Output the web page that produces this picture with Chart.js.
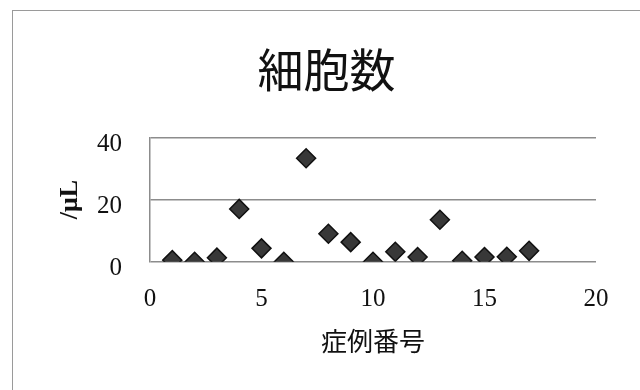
<!DOCTYPE html>
<html>
<head>
<meta charset="utf-8">
<script src="https://cdn.jsdelivr.net/npm/chart.js@4"></script>
<style>
  html, body { margin: 0; padding: 0; background: #fff; overflow: hidden; }
  #wrap { position: relative; width: 640px; height: 390px; overflow: hidden; background: #fff; }
  #wrap canvas { display: block; position: absolute; left: 0; top: 0; }
  /* outer frame of the chart box; only its top and left edges fall inside the view */
  #frame {
    position: absolute; left: 12px; top: 10px; width: 700px; height: 500px;
    border-top: 1.5px solid #9a9a9a; border-left: 1.5px solid #9a9a9a;
    pointer-events: none;
  }
</style>
</head>
<body>
<div id="wrap"><canvas id="c" width="640" height="390"></canvas><div id="frame"></div></div>
<script>
// Case numbers and cell counts (/μL)
const caseNumbers = [1, 2, 3, 4, 5, 6, 7, 8, 9, 10, 11, 12, 13, 14, 15, 16, 17];
const cellCounts = [0.5, 0, 1.3, 17, 4.3, 0, 33.3, 9, 6.3, 0, 3.2, 1.5, 13.5, 0.3, 1.5, 1.6, 3.5];
const xTicks = [0, 5, 10, 15, 20];
const yTicks = [0, 20, 40];

const chartTitle = '細胞数';
const xTitle = '症例番号';
const yTitle = '/μL';

const points = caseNumbers.map((x, i) => ({ x: x, y: cellCounts[i] }));

const serif = "'Liberation Serif', 'DejaVu Serif', serif";
const cjk = "'Noto Sans CJK JP', 'Noto Sans CJK SC', sans-serif";

// Chart title, centred on the frame rather than on the plot
const titlePlugin = {
  id: 'centredTitle',
  afterDraw(chart) {
    const ctx = chart.ctx;
    ctx.save();
    ctx.fillStyle = '#111';
    ctx.font = "46px " + cjk;
    ctx.textAlign = 'center';
    ctx.textBaseline = 'middle';
    ctx.fillText(chartTitle, (13 + chart.width) / 2, 70);
    ctx.restore();
  }
};

new Chart(document.getElementById('c'), {
  type: 'scatter',
  data: {
    datasets: [{
      data: points,
      pointStyle: 'rectRot',
      pointRadius: 9.5,
      pointHoverRadius: 9.5,
      backgroundColor: '#383838',
      borderColor: '#111111',
      borderWidth: 1.5
    }]
  },
  options: {
    responsive: false,
    animation: false,
    layout: { padding: { left: 13, top: 137.5, right: 44, bottom: 0 } },
    plugins: {
      legend: { display: false },
      tooltip: { enabled: false },
      title: { display: false }
    },
    scales: {
      x: {
        type: 'linear',
        min: 0,
        max: 20,
        afterBuildTicks(s) { s.ticks = xTicks.map(v => ({ value: v })); },
        afterFit(s) { s.height = 390 - 261.7; },
        grid: { display: false, drawTicks: false },
        border: { display: false },
        ticks: {
          color: '#111',
          padding: 23,
          maxRotation: 0,
          font: { family: serif, size: 25 }
        },
        title: {
          display: true,
          text: xTitle,
          color: '#111',
          font: { family: cjk, size: 26, lineHeight: 1.2 },
          padding: { top: 0, bottom: 33 }
        }
      },
      y: {
        type: 'linear',
        min: 0,
        max: 40,
        afterBuildTicks(s) { s.ticks = yTicks.map(v => ({ value: v })); },
        afterFit(s) { s.width = 150 - 13; },
        grid: { color: '#8c8c8c', lineWidth: 1.5, drawTicks: false },
        border: { display: true, color: '#8c8c8c', width: 1.5 },
        ticks: {
          color: '#111',
          padding: 28,
          labelOffset: 7,
          font: { family: serif, size: 25 }
        },
        title: {
          display: true,
          text: yTitle,
          color: '#111',
          font: { family: serif, size: 26, weight: 'bold', lineHeight: 1.2 },
          padding: { top: 42, bottom: 0 }
        }
      }
    }
  },
  plugins: [titlePlugin]
});
</script>
</body>
</html>
